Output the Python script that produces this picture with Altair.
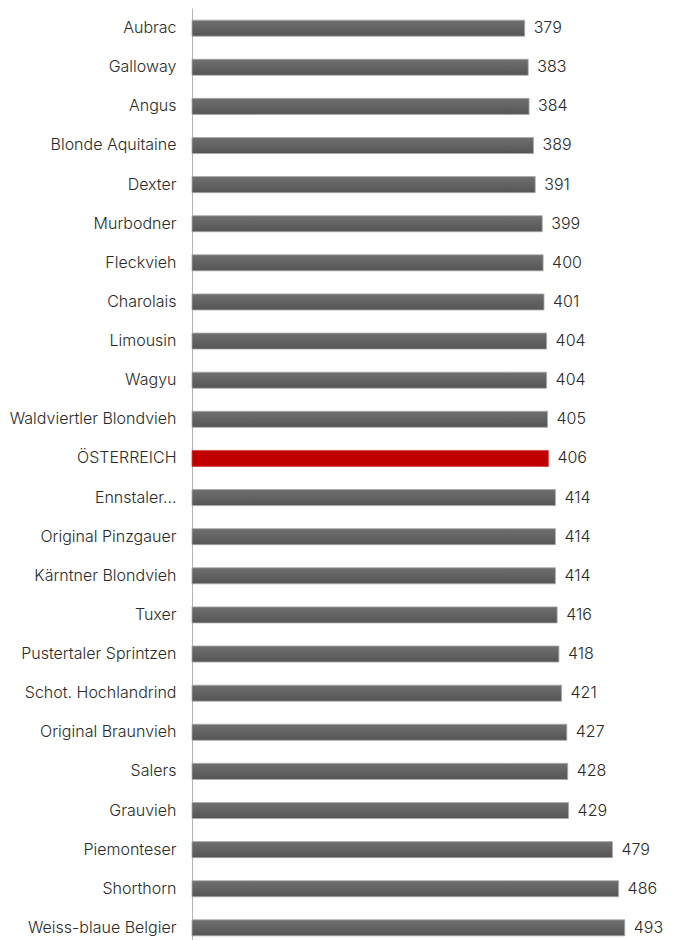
import altair as alt
import pandas as pd

breeds = [
    "Aubrac", "Galloway", "Angus", "Blonde Aquitaine", "Dexter", "Murbodner",
    "Fleckvieh", "Charolais", "Limousin", "Wagyu", "Waldviertler Blondvieh",
    "ÖSTERREICH", "Ennstaler…", "Original Pinzgauer", "Kärntner Blondvieh",
    "Tuxer", "Pustertaler Sprintzen", "Schot. Hochlandrind", "Original Braunvieh",
    "Salers", "Grauvieh", "Piemonteser", "Shorthorn", "Weiss-blaue Belgier",
]
values = [379, 383, 384, 389, 391, 399, 400, 401, 404, 404, 405, 406,
          414, 414, 414, 416, 418, 421, 427, 428, 429, 479, 486, 493]
highlight = "ÖSTERREICH"

df = pd.DataFrame({"breed": breeds, "value": values})
df["hl"] = df["breed"] == highlight

FONT = "Inter"
FSIZE = 16
FWEIGHT = 300
TCOLOR = "#2a2a2a"

y_enc = alt.Y(
    "breed:N", sort=breeds, title=None,
    scale=alt.Scale(paddingInner=0.59, paddingOuter=0.31),
    axis=alt.Axis(
        labelFont=FONT, labelFontSize=FSIZE, labelFontWeight=FWEIGHT, labelColor=TCOLOR,
        labelPadding=16, ticks=False, domainColor="#b5b5b5", domainWidth=1,
        minExtent=184, maxExtent=184, labelLimit=300,
    ),
)
x_enc = alt.X("value:Q", scale=alt.Scale(domain=[0, 540], nice=False), axis=None)

base = alt.Chart(df)

gray = base.transform_filter("!datum.hl").mark_bar(
    fill=alt.Gradient(
        gradient="linear", x1=0, y1=0, x2=0, y2=1,
        stops=[alt.GradientStop(color="#707070", offset=0),
               alt.GradientStop(color="#555555", offset=1)],
    ),
    stroke="#a8a8a8", strokeWidth=0.8,
).encode(x=x_enc, y=y_enc)

red = base.transform_filter("datum.hl").mark_bar(
    color="#c00000", stroke="#d04040", strokeWidth=0.8,
).encode(x=x_enc, y=y_enc)

text = base.mark_text(
    align="left", baseline="middle", dx=9, font=FONT, fontSize=FSIZE,
    fontWeight=FWEIGHT, color=TCOLOR,
).encode(x=x_enc, y=y_enc, text="value:Q")

chart = (gray + red + text).properties(
    width=474, height=940, padding=0,
).configure_view(stroke=None)

chart.save("out.html", embed_options={"renderer": "svg", "actions": False})
